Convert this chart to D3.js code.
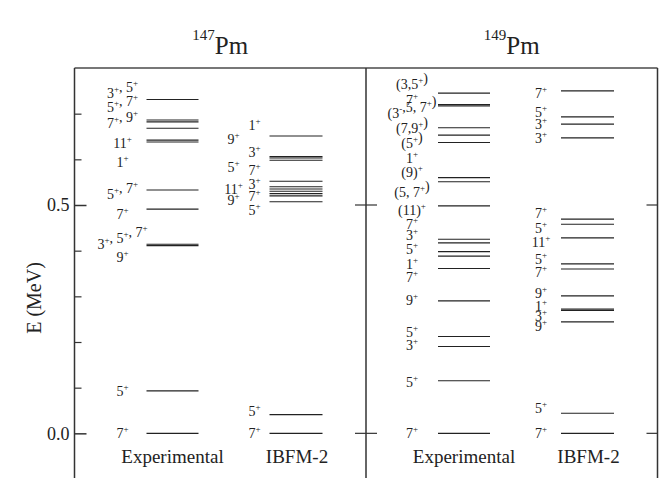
<!DOCTYPE html>
<html>
<head>
<meta charset="utf-8">
<script src="https://cdn.jsdelivr.net/npm/d3@7"></script>
<style>
  body { margin: 0; background: #fff; }
  text { font-family: "Liberation Serif", "DejaVu Serif", serif; fill: #222; }
</style>
</head>
<body>
<script>
// level energies (MeV)
var nuclei = ['147', '149'];
var columns = ['Experimental', 'IBFM-2'];

var exp147 = [0.731, 0.686, 0.682, 0.668, 0.642, 0.638, 0.533, 0.491, 0.414, 0.411, 0.093, 0.0];
var ibfm147 = [0.651, 0.606, 0.603, 0.598, 0.552, 0.540, 0.535, 0.530, 0.525, 0.520, 0.507, 0.041, 0.0];
var exp149 = [0.745, 0.720, 0.717, 0.669, 0.653, 0.637, 0.560, 0.551, 0.498, 0.425, 0.417, 0.398, 0.388,
              0.361, 0.290, 0.212, 0.190, 0.115, 0.0];
var ibfm149 = [0.750, 0.693, 0.677, 0.647, 0.469, 0.458, 0.428, 0.371, 0.360, 0.301, 0.272, 0.269, 0.244,
               0.044, 0.0];

// spin labels and the energy where each label sits
var expLabels147 = [["3+, 5+", 0.746], ["5+, 7+", 0.714], ["7+, 9+", 0.679], ["11+", 0.636], ["1+", 0.594],
                    ["5+, 7+", 0.524], ["7+", 0.481], ["3+, 5+, 7+", 0.414], ["9+", 0.386],
                    ["5+", 0.092], ["7+", 0.0]];
var ibfmLabels147a = [["9+", 0.644], ["5+", 0.584], ["11+", 0.536], ["9+", 0.511]];
var ibfmLabels147b = [["1+", 0.675], ["3+", 0.617], ["7+", 0.577], ["3+", 0.546], ["7+", 0.520], ["5+", 0.489],
                      ["5+", 0.050], ["7+", 0.0]];
var expLabels149 = [["(3,5+)", 0.764], ["7+", 0.730], ["(3-,5, 7+)", 0.701], ["(7,9+)", 0.668], ["(5+)", 0.635],
                    ["1+", 0.604], ["(9)+", 0.573], ["(5, 7+)", 0.529], ["(11)+", 0.489], ["7+", 0.458],
                    ["3+", 0.434], ["5+", 0.403], ["1+", 0.371], ["7+", 0.343], ["9+", 0.292],
                    ["5+", 0.221], ["3+", 0.193], ["5+", 0.113], ["7+", 0.0]];
var ibfmLabels149 = [["7+", 0.745], ["5+", 0.703], ["3+", 0.677], ["3+", 0.646],
                     ["7+", 0.482], ["5+", 0.449], ["11+", 0.418], ["5+", 0.382], ["7+", 0.354],
                     ["9+", 0.307], ["1+", 0.279], ["3+", 0.258], ["9+", 0.236],
                     ["5+", 0.055], ["7+", 0.0]];

var majorTicks = [0.0, 0.5];
var minorTicks = [0.1, 0.2, 0.3, 0.4, 0.6, 0.7];

var width = 670, height = 478;
var svg = d3.select("body").append("svg")
    .attr("width", width)
    .attr("height", height);

var y = d3.scaleLinear().domain([-0.1, 0.8]).range([479, 68]);
var panel = d3.scaleBand().domain(nuclei).range([74.5, 657.5]);

// inside a panel: where the level lines go
var colX = { exp: [72, 124], ibfm: [195, 248] };

function drawLevels(g, energies, span) {
    g.append("g")
        .selectAll("line")
        .data(energies)
        .enter().append("line")
        .attr("x1", span[0]).attr("x2", span[1])
        .attr("y1", function(d) { return y(d); })
        .attr("y2", function(d) { return y(d); })
        .attr("stroke", "#222")
        .attr("stroke-width", 1.1);
}

// write "5+, 7+" with the signs raised
function spinText(sel, label) {
    var parts = label.split(/([+-])/);
    parts.forEach(function(p) {
        if (p === "") return;
        if (p === "+" || p === "-") {
            sel.append("tspan").attr("dy", -6).attr("font-size", 9).text(p);
            sel.append("tspan").attr("dy", 6).text("");
        } else {
            sel.append("tspan").text(p);
        }
    });
}

function drawLabels(g, labels, cx) {
    labels.forEach(function(l) {
        var t = g.append("text")
            .attr("x", cx)
            .attr("y", y(l[1]) + 5)
            .attr("text-anchor", "middle")
            .attr("font-size", 14);
        spinText(t, l[0]);
    });
}

var g147 = svg.append("g").attr("transform", "translate(" + panel('147') + ",0)");
var g149 = svg.append("g").attr("transform", "translate(" + panel('149') + ",0)");

drawLevels(g147, exp147, colX.exp);
drawLevels(g147, ibfm147, colX.ibfm);
drawLevels(g149, exp149, colX.exp);
drawLevels(g149, ibfm149, colX.ibfm);

drawLabels(g147, expLabels147, 48);
drawLabels(g147, ibfmLabels147a, 159);
drawLabels(g147, ibfmLabels147b, 180);
drawLabels(g149, expLabels149, 46);
drawLabels(g149, ibfmLabels149, 175);

// column names under each panel
[g147, g149].forEach(function(g) {
    g.append("text").attr("x", (colX.exp[0] + colX.exp[1]) / 2).attr("y", 463)
        .attr("text-anchor", "middle").attr("font-size", 19).text(columns[0]);
    g.append("text").attr("x", (colX.ibfm[0] + colX.ibfm[1]) / 2 + 1).attr("y", 463)
        .attr("text-anchor", "middle").attr("font-size", 19).text(columns[1]);
});

// titles
nuclei.forEach(function(n) {
    var t = svg.append("text")
        .attr("x", panel(n) + panel.bandwidth() / 2)
        .attr("y", 54)
        .attr("text-anchor", "middle");
    t.append("tspan").attr("font-size", 15).attr("dy", -14).text(n);
    t.append("tspan").attr("font-size", 25).attr("dy", 14).text("Pm");
});

// frame
var x0 = panel('147'), xm = panel('149'), x1 = panel('149') + panel.bandwidth();
var frame = svg.append("g").attr("stroke", "#333").attr("stroke-width", 1.5);
frame.append("line").attr("x1", x0).attr("x2", x1).attr("y1", y(0.8)).attr("y2", y(0.8)).attr("stroke", "#777").attr("stroke-width", 2);
[x0, xm, x1].forEach(function(xx) {
    frame.append("line").attr("x1", xx).attr("x2", xx).attr("y1", y(0.8)).attr("y2", height);
});

// left axis
var axis = svg.append("g").attr("transform", "translate(" + x0 + ",0)")
    .call(d3.axisLeft(y).tickValues(majorTicks).tickFormat(d3.format(".1f")).tickSizeInner(-12).tickSizeOuter(0).tickPadding(5));
axis.select(".domain").remove();
axis.selectAll("text").attr("font-size", 18).attr("font-family", "Liberation Serif").attr("fill", "#222");
axis.selectAll("line").attr("stroke", "#333").attr("stroke-width", 1.5);

var minor = svg.append("g").attr("transform", "translate(" + x0 + ",0)")
    .call(d3.axisLeft(y).tickValues(minorTicks).tickFormat("").tickSizeInner(-7).tickSizeOuter(0));
minor.select(".domain").remove();
minor.selectAll("line").attr("stroke", "#333").attr("stroke-width", 1.2);

// ticks on the divider and right border
majorTicks.forEach(function(v) {
    frame.append("line").attr("x1", xm - 11).attr("x2", xm + 11).attr("y1", y(v)).attr("y2", y(v)).attr("stroke-width", 1.2);
    frame.append("line").attr("x1", x1 - 11).attr("x2", x1).attr("y1", y(v)).attr("y2", y(v)).attr("stroke-width", 1.2);
});

// y label
svg.append("text")
    .attr("transform", "translate(41,298) rotate(-90)")
    .attr("text-anchor", "middle")
    .attr("font-size", 20)
    .text("E (MeV)");
</script>
</body>
</html>
